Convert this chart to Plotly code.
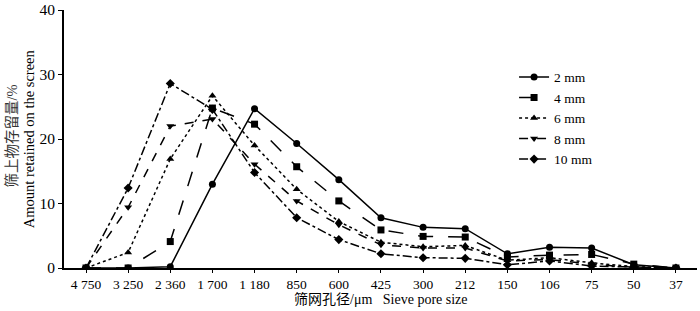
import plotly.graph_objects as go

sizes = ["4 750", "3 250", "2 360", "1 700", "1 180", "850", "600", "425", "300", "212", "150", "106", "75", "50", "37"]
s2 = [0, 0, 0.2, 13.0, 24.7, 19.3, 13.7, 7.8, 6.3, 6.1, 2.2, 3.2, 3.1, 0.5, 0]
s4 = [0, 0, 4.1, 24.8, 22.3, 15.7, 10.4, 5.9, 4.9, 4.8, 1.7, 2.0, 2.1, 0.6, 0]
s6 = [0, 2.4, 16.9, 26.7, 19.0, 12.2, 7.2, 4.0, 3.3, 3.5, 1.2, 1.6, 0.8, 0.2, 0]
s8 = [0, 9.4, 22.0, 23.1, 16.1, 10.4, 6.7, 3.6, 3.1, 3.1, 1.1, 1.3, 0.6, 0.1, 0]
s10 = [0, 12.4, 28.6, 24.6, 14.8, 7.8, 4.4, 2.2, 1.6, 1.5, 0.5, 1.1, 0.3, 0.1, 0]

names = ["2 mm", "4 mm", "6 mm", "8 mm", "10 mm"]
series = [s2, s4, s6, s8, s10]
dashes = ["solid", "longdash", "dot", "dash", "dashdot"]
symbols = ["circle", "square", "triangle-up", "triangle-down", "diamond"]

x_title = "筛网孔径/μm&nbsp;&nbsp;&nbsp;Sieve pore size"
y_title_cn = "筛上物存留量/%"
y_title_en = "Amount retained on the screen"

serif = "Liberation Serif, Times New Roman, Noto Sans CJK SC, serif"

fig = go.Figure()
for n, s, d, sym in zip(names, series, dashes, symbols):
    fig.add_trace(go.Scatter(
        x=list(range(len(sizes))), y=s, name=n, mode="lines+markers",
        line=dict(color="black", width=1.5, dash=d),
        marker=dict(color="black", symbol=sym, size=7),
    ))

fig.update_layout(
    width=700, height=311,
    margin=dict(l=64, r=3, t=10, b=43),
    plot_bgcolor="white", paper_bgcolor="white",
    font=dict(family=serif, size=13, color="black"),
    showlegend=True,
    legend=dict(x=0.711, y=0.80, xanchor="left", yanchor="top",
                bgcolor="rgba(0,0,0,0)", font=dict(size=13.5, family=serif),
                tracegroupgap=0, itemwidth=30),
    xaxis=dict(
        tickmode="array", tickvals=list(range(len(sizes))), ticktext=sizes,
        range=[-0.522, 14.5], showgrid=False, zeroline=False,
        showline=True, linecolor="black", linewidth=2,
        ticks="outside", ticklen=3, tickcolor="black",
        tickfont=dict(size=13.5), automargin=False,
    ),
    yaxis=dict(
        range=[0, 40], tickvals=[0, 10, 20, 30, 40], showgrid=False, zeroline=False,
        showline=True, linecolor="black", linewidth=2,
        ticks="outside", ticklen=4, tickcolor="black",
        tickfont=dict(size=15.5), automargin=False, ticklabeloverflow="allow",
    ),
    annotations=[
        dict(text=x_title, xref="paper", yref="paper", x=0.5, y=-0.124,
             xanchor="center", yanchor="middle", showarrow=False,
             font=dict(size=14, family=serif)),
        dict(text=y_title_cn, xref="paper", yref="paper", x=-0.082, y=0.51,
             xanchor="center", yanchor="middle", showarrow=False, textangle=-90,
             font=dict(size=14.5, family=serif, color="#333")),
        dict(text=y_title_en, xref="paper", yref="paper", x=-0.055, y=0.5,
             xanchor="center", yanchor="middle", showarrow=False, textangle=-90,
             font=dict(size=14.5, family=serif)),
    ],
)

fig.write_html("out.html", config={"displayModeBar": False},
               post_script="document.body.style.margin='0';document.body.style.padding='0';")
